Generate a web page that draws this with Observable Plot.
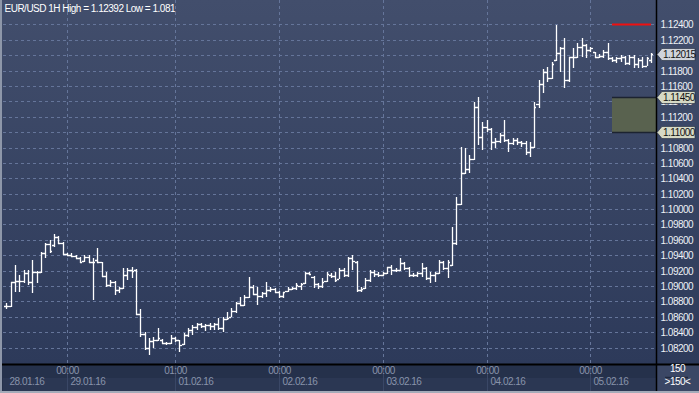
<!DOCTYPE html>
<html><head><meta charset="utf-8">
<script src="https://cdn.jsdelivr.net/npm/d3@7"></script>
<script src="https://cdn.jsdelivr.net/npm/@observablehq/plot@0.6"></script>
<style>html,body{margin:0;padding:0;background:#2d3a58;overflow:hidden}#chart svg{display:block}</style>
</head><body><div id="chart"></div>
<script>
const titleText = "EUR/USD 1H High = 1.12392 Low = 1.081";
const opens = [
1.08741,1.08741,1.09053,1.09066,1.09066,1.09170,1.09053,1.09183,1.09183,1.09430,
1.09546,1.09533,1.09637,1.09559,1.09417,1.09404,1.09391,1.09365,1.09326,1.09378,
1.09313,1.09339,1.09313,1.09131,1.09014,1.09053,1.08949,1.08975,1.09144,1.09209,
1.09209,1.08637,1.08377,1.08195,1.08286,1.08299,1.08299,1.08260,1.08260,1.08325,
1.08299,1.08247,1.08364,1.08429,1.08468,1.08507,1.08481,1.08494,1.08481,1.08507,
1.08455,1.08572,1.08598,1.08676,1.08780,1.08754,1.08858,1.08988,1.08897,1.08871,
1.08910,1.08949,1.08962,1.08923,1.08871,1.08936,1.08962,1.08975,1.09001,1.09040,
1.09170,1.09118,1.09027,1.09001,1.09066,1.09144,1.09131,1.09092,1.09209,1.09144,
1.09365,1.09313,1.08949,1.08975,1.09079,1.09183,1.09157,1.09144,1.09170,1.09248,
1.09209,1.09209,1.09300,1.09235,1.09144,1.09144,1.09170,1.09235,1.09105,1.09144,
1.09170,1.09313,1.09235,1.09274,1.09559,1.10066,1.10469,1.10521,1.10651,1.11326,
1.10936,1.11066,1.11040,1.10871,1.10884,1.10962,1.10897,1.10858,1.10897,1.10871,
1.10858,1.10742,1.10807,1.11365,1.11625,1.11781,1.11703,1.11937,1.12028,1.12092,
1.11677,1.11976,1.11976,1.12105,1.12131,1.12067,1.12041,1.11976,1.11989,1.12041,
1.11963,1.11937,1.11963,1.11976,1.11898,1.11976,1.11885,1.11937,1.11859,1.11937];
const highs = [
1.08780,1.09053,1.09274,1.09144,1.09209,1.09209,1.09339,1.09196,1.09443,1.09559,
1.09598,1.09676,1.09650,1.09572,1.09430,1.09430,1.09404,1.09378,1.09404,1.09404,
1.09365,1.09495,1.09313,1.09183,1.09079,1.09066,1.08988,1.09235,1.09235,1.09248,
1.09222,1.08702,1.08403,1.08325,1.08338,1.08455,1.08312,1.08273,1.08364,1.08338,
1.08299,1.08390,1.08455,1.08494,1.08520,1.08520,1.08507,1.08520,1.08520,1.08585,
1.08598,1.08663,1.08715,1.08793,1.08858,1.08884,1.09118,1.09014,1.08988,1.08923,
1.09053,1.08988,1.08975,1.08936,1.08923,1.08988,1.08988,1.09040,1.09040,1.09183,
1.09183,1.09131,1.09040,1.09105,1.09183,1.09170,1.09183,1.09235,1.09235,1.09378,
1.09404,1.09326,1.08988,1.09105,1.09209,1.09209,1.09183,1.09183,1.09248,1.09274,
1.09235,1.09365,1.09313,1.09248,1.09170,1.09183,1.09300,1.09248,1.09183,1.09183,
1.09339,1.09326,1.09339,1.09767,1.10157,1.10807,1.10794,1.10703,1.11391,1.11456,
1.11131,1.11157,1.11053,1.10923,1.10988,1.11157,1.10910,1.10923,1.10923,1.10884,
1.10884,1.10871,1.11391,1.11677,1.11820,1.11846,1.11911,1.12392,1.12105,1.12222,
1.11976,1.12092,1.12157,1.12222,1.12144,1.12105,1.12041,1.12015,1.12067,1.12157,
1.11976,1.11976,1.12002,1.11989,1.12002,1.12002,1.11963,1.11976,1.11976,1.12028];
const lows = [
1.08702,1.08728,1.08923,1.08923,1.09040,1.09014,1.08910,1.09040,1.09170,1.09365,
1.09430,1.09508,1.09546,1.09404,1.09391,1.09378,1.09352,1.09300,1.09313,1.09300,
1.08819,1.09300,1.09118,1.08988,1.08988,1.08884,1.08910,1.08962,1.09079,1.09105,
1.08624,1.08338,1.08169,1.08100,1.08195,1.08286,1.08247,1.08234,1.08247,1.08273,
1.08144,1.08234,1.08338,1.08364,1.08429,1.08455,1.08416,1.08429,1.08429,1.08429,
1.08403,1.08559,1.08598,1.08650,1.08754,1.08741,1.08845,1.08884,1.08754,1.08845,
1.08858,1.08923,1.08910,1.08845,1.08845,1.08923,1.08949,1.08949,1.08949,1.09027,
1.09144,1.08975,1.08962,1.08975,1.09053,1.09105,1.09053,1.09092,1.09118,1.09118,
1.09209,1.08923,1.08923,1.08962,1.09053,1.09118,1.09118,1.09131,1.09157,1.09144,
1.09183,1.09196,1.09209,1.09118,1.09118,1.09118,1.09118,1.09079,1.09040,1.09053,
1.09157,1.09209,1.09105,1.09261,1.09533,1.10053,1.10456,1.10469,1.10638,1.10832,
1.10768,1.11001,1.10768,1.10794,1.10858,1.10871,1.10742,1.10832,1.10832,1.10807,
1.10703,1.10677,1.10794,1.11313,1.11508,1.11651,1.11690,1.11924,1.11781,1.11573,
1.11651,1.11833,1.11963,1.11976,1.11963,1.12041,1.11963,1.11963,1.11963,1.11937,
1.11911,1.11898,1.11911,1.11872,1.11872,1.11833,1.11833,1.11833,1.11859,1.11898];
const closes = [
1.08741,1.09053,1.09066,1.09066,1.09170,1.09053,1.09183,1.09183,1.09430,1.09546,
1.09456,1.09637,1.09559,1.09417,1.09404,1.09391,1.09365,1.09313,1.09378,1.09313,
1.09313,1.09313,1.09131,1.09014,1.09053,1.08949,1.08975,1.09144,1.09209,1.09196,
1.08637,1.08377,1.08195,1.08286,1.08299,1.08325,1.08260,1.08260,1.08325,1.08299,
1.08234,1.08364,1.08429,1.08468,1.08507,1.08481,1.08494,1.08481,1.08507,1.08455,
1.08572,1.08585,1.08676,1.08780,1.08754,1.08858,1.08988,1.08897,1.08871,1.08910,
1.08949,1.08962,1.08923,1.08871,1.08923,1.08962,1.08975,1.09014,1.09027,1.09170,
1.09157,1.09027,1.09001,1.09053,1.09157,1.09131,1.09079,1.09209,1.09144,1.09365,
1.09326,1.08949,1.08962,1.09079,1.09183,1.09157,1.09144,1.09170,1.09248,1.09209,
1.09209,1.09300,1.09235,1.09144,1.09144,1.09170,1.09235,1.09105,1.09144,1.09170,
1.09313,1.09235,1.09313,1.09559,1.10066,1.10469,1.10521,1.10651,1.11326,1.10936,
1.11066,1.11040,1.10871,1.10884,1.10962,1.10897,1.10858,1.10897,1.10871,1.10858,
1.10742,1.10807,1.11326,1.11625,1.11781,1.11703,1.11885,1.12028,1.12092,1.11677,
1.11976,1.11976,1.12105,1.12131,1.12067,1.12092,1.11976,1.11989,1.12041,1.11963,
1.11937,1.11963,1.11976,1.11898,1.11976,1.11885,1.11937,1.11859,1.11963,1.12015];
const yTicks = [1.124,1.122,1.120,1.118,1.116,1.114,1.112,1.110,1.108,1.106,1.104,1.102,
                1.100,1.098,1.096,1.094,1.092,1.090,1.088,1.086,1.084,1.082];
const yTickLabels = [1.124,1.122,1.118,1.116,1.114,1.112,1.108,1.106,1.104,1.102,
                     1.100,1.098,1.096,1.094,1.092,1.090,1.088,1.086,1.084,1.082];
const dayTickIdx = [14, 39, 63, 87, 111, 135];
const timeLabels = ["00:00","01:00","00:00","00:00","00:00","00:00"];
const dateIdx = [0, 14, 39, 63, 87, 111, 135];
const dateLabels = ["28.01.16","29.01.16","01.02.16","02.02.16","03.02.16","04.02.16","05.02.16"];
const tagValues = [1.12015, 1.11450, 1.11000];
const zoneLevels = [1.11000, 1.11450];
const zoneStartIdx = [140];
const alertLevel = [1.12400];
const alertSpan = [140, 149];
const barCountLabels = ["150", ">150<"];

const bars = opens.map((o, i) => ({i, o, h: highs[i], l: lows[i], c: closes[i]}));
const xDomain = [-0.77, 150.15];

function chrome(index, scales, values, dims) {
  const {width: W, height: H, marginRight, marginBottom, marginLeft} = dims;
  const R = W - marginRight, B = H - marginBottom;
  const g = d3.create("svg:g");
  const grad = g.append("defs").append("linearGradient").attr("id", "bgGrad")
    .attr("x1", 0).attr("x2", 0).attr("y1", 0).attr("y2", 1);
  grad.append("stop").attr("offset", "0%").attr("stop-color", "#424e6c");
  grad.append("stop").attr("offset", "100%").attr("stop-color", "#2d3a5a");
  g.append("rect").attr("width", W).attr("height", B).attr("fill", "url(#bgGrad)");
  g.append("rect").attr("y", B).attr("width", W).attr("height", H - B).attr("fill", "#25314b");
  g.append("rect").attr("x", marginLeft).attr("y", B + 14).attr("width", R - marginLeft).attr("height", H - B - 14).attr("fill", "#2b3753");
  for (const d of dayTickIdx) {
    const xx = scales.x(d) + 0.5;
    g.append("line").attr("x1", xx).attr("x2", xx).attr("y1", B).attr("y2", H)
      .attr("stroke", "#3a4766");
  }
  g.append("rect").attr("x", R).attr("y", B).attr("width", W - R).attr("height", H - B).attr("fill", "#3b4765");
  g.append("line").attr("x1", R + 9).attr("x2", R + 32).attr("y1", B + 13.5).attr("y2", B + 13.5)
    .attr("stroke", "#1f283e").attr("stroke-width", 1.5);
  return g.node();
}
function frameLines(index, scales, values, dims) {
  const {width: W, height: H, marginRight, marginBottom} = dims;
  const R = W - marginRight, B = H - marginBottom;
  const g = d3.create("svg:g");
  g.append("line").attr("x1", R + 0.5).attr("x2", R + 0.5).attr("y1", 0).attr("y2", H).attr("stroke", "#000").attr("stroke-width", 1.5);
  g.append("line").attr("x1", 0).attr("x2", W).attr("y1", B + 0.5).attr("y2", B + 0.5).attr("stroke", "#000").attr("stroke-width", 2);
  g.append("rect").attr("x", 0).attr("y", 0).attr("width", 2).attr("height", H).attr("fill", "#8e97a9");
  g.append("rect").attr("x", 0).attr("y", H - 2).attr("width", W).attr("height", 2).attr("fill", "#a4abb9");
  return g.node();
}
function tags(index, scales, values, dims) {
  const R = dims.width - dims.marginRight;
  const g = d3.create("svg:g").attr("text-anchor", "start");
  const fills = ["#cfd3db", "#d6d9c5", "#d6d9c5"];
  tagValues.forEach((v, k) => {
    const y = Math.round(scales.y(v)) + 0.5;
    g.append("path").attr("d", `M${R + 1},${y} L${R + 6},${y - 6} H${R + 39} V${y + 6} H${R + 6} Z`)
      .attr("fill", fills[k]).attr("stroke", "#20283a").attr("stroke-width", 0.6);
    g.append("text").attr("x", R + 7).attr("y", y).attr("dy", "0.36em").attr("text-anchor", "start")
      .attr("fill", "#111").text(v.toFixed(5));
  });
  return g.node();
}

const chart = Plot.plot({
  width: 699, height: 393,
  marginLeft: 3, marginRight: 43, marginTop: 0, marginBottom: 29,
  x: {type: "linear", domain: xDomain, round: true, axis: null},
  y: {type: "linear", domain: [1.07988, 1.12716], round: true, axis: null},
  style: {fontFamily: "'Liberation Sans', Arial, sans-serif", fontSize: "10px", letterSpacing: "-0.5px", background: "#2d3a58", color: "#e6eaf2", overflow: "visible"},
  marks: [
    chrome,
    Plot.gridY({ticks: yTicks, stroke: "#65759a", strokeOpacity: 1, strokeDasharray: "3,3"}),
    Plot.gridX({ticks: dayTickIdx, stroke: "#65759a", strokeOpacity: 1, strokeDasharray: "3,3"}),
    Plot.rect(zoneStartIdx, {x1: d => d, x2: () => xDomain[1], y1: () => zoneLevels[0], y2: () => zoneLevels[1], fill: "#59624f"}),
    Plot.ruleY(zoneLevels, {x1: () => zoneStartIdx[0], x2: () => xDomain[1], stroke: "#1c2330", strokeWidth: 1.5}),
    Plot.ruleY(alertLevel, {x1: () => alertSpan[0], x2: () => alertSpan[1], stroke: "#f01010", strokeWidth: 2}),
    Plot.ruleX(bars, {x: "i", y1: "l", y2: "h", stroke: "#ffffff", strokeWidth: 1.3}),
    Plot.ruleY(bars, {x1: d => d.i - 0.5, x2: "i", y: "o", stroke: "#ffffff", strokeWidth: 1.3}),
    Plot.ruleY(bars, {x1: "i", x2: d => d.i + 0.5, y: "c", stroke: "#ffffff", strokeWidth: 1.3}),
    frameLines,
    Plot.axisY({anchor: "right", ticks: yTickLabels, tickFormat: d => d.toFixed(5), tickSize: 0, tickPadding: 4, fill: "#eef1f6", label: null}),
    tags,
    Plot.text(dayTickIdx, {x: d => d, frameAnchor: "bottom", dy: 9, text: (d, i) => timeLabels[i], fill: "#8893aa"}),
    Plot.text(dateIdx, {x: d => d, frameAnchor: "bottom", dy: 20, dx: 3, textAnchor: "start", text: (d, i) => dateLabels[i], fill: "#8893aa"}),
    Plot.text([barCountLabels[0]], {frameAnchor: "bottom-right", dx: 21, dy: 7.5, textAnchor: "middle", text: d => d, fill: "#ffffff"}),
    Plot.text([barCountLabels[1]], {frameAnchor: "bottom-right", dx: 21, dy: 20.5, textAnchor: "middle", text: d => d, fill: "#ffffff"}),
    Plot.text([titleText], {frameAnchor: "top-left", dx: 1, dy: 4.5, lineAnchor: "top", textAnchor: "start", text: d => d, fill: "#ffffff"})
  ]
});
document.getElementById("chart").append(chart);
</script>
</body></html>
